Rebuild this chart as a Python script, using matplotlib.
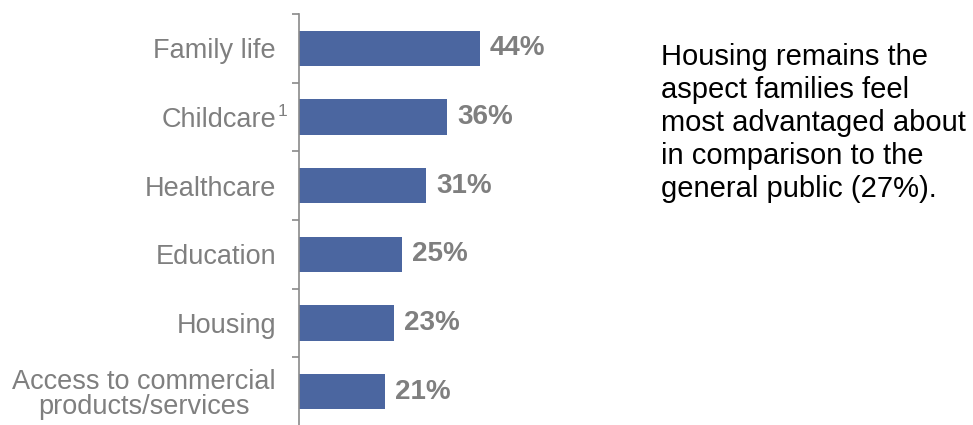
import matplotlib
matplotlib.use("Agg")
import matplotlib.pyplot as plt
from matplotlib.transforms import offset_copy

plt.rcParams["font.family"] = ["Liberation Sans", "DejaVu Sans"]

# Share of families feeling advantaged, by aspect
categories = [
    "Family life",
    "Childcare",
    "Healthcare",
    "Education",
    "Housing",
    "Access to commercial\nproducts/services",
]
values = [44, 36, 31, 25, 23, 21]
value_labels = ["44%", "36%", "31%", "25%", "23%", "21%"]
footnote_mark = "1"
side_note = [
    "Housing remains the",
    "aspect families feel",
    "most advantaged about",
    "in comparison to the",
    "general public (27%).",
]

BAR = "#4b66a0"
GREY = "#7f7f7f"
AXIS = "#8a8a8a"

W, H = 973, 425
fig = plt.figure(figsize=(W / 100, H / 100), dpi=100)
fig.patch.set_facecolor("white")

ax = fig.add_axes([299 / W, 1 - 426 / H, 246.6 / W, 412 / H])
ypos = list(range(len(categories)))
ax.barh(ypos, values, height=0.51, color=BAR, zorder=2)

ax.set_xlim(0, 60)
ax.set_ylim(len(categories) - 0.5, -0.5)

for s in ("top", "right", "bottom"):
    ax.spines[s].set_visible(False)
ax.spines["left"].set_color(AXIS)
ax.spines["left"].set_linewidth(1.2)
ax.xaxis.set_visible(False)

ax.set_yticks(ypos)
ax.set_yticklabels(categories)
ax.set_yticks([i - 0.5 for i in range(len(categories) + 1)], minor=True)
ax.tick_params(axis="y", which="major", length=0, pad=16.5,
               labelsize=19.5, labelcolor=GREY)
ax.tick_params(axis="y", which="minor", length=5, width=1.2, color=AXIS,
               direction="out")
for lbl in ax.get_yticklabels():
    lbl.set_multialignment("center")
    lbl.set_linespacing(0.95)

# Footnote marker after "Childcare"
fn_tr = offset_copy(ax.get_yaxis_transform(), fig=fig, x=-12, y=6, units="dots")
ax.text(0, 1, footnote_mark, transform=fn_tr, ha="right", va="center",
        fontsize=12.5, color=GREY)

# Value labels beside each bar
lab_tr = offset_copy(ax.transData, fig=fig, x=10, y=0, units="dots")
for y, v, t in zip(ypos, values, value_labels):
    ax.text(v, y, t, transform=lab_tr, ha="left", va="center",
            fontsize=20, fontweight="bold", color=GREY)

# Commentary on the right
for i, line in enumerate(side_note):
    fig.text(661 / W, 1 - (65 + 33 * i) / H, line, ha="left", va="baseline",
             fontsize=21, color="black")

fig.savefig("out.png", dpi=100, facecolor="white")
